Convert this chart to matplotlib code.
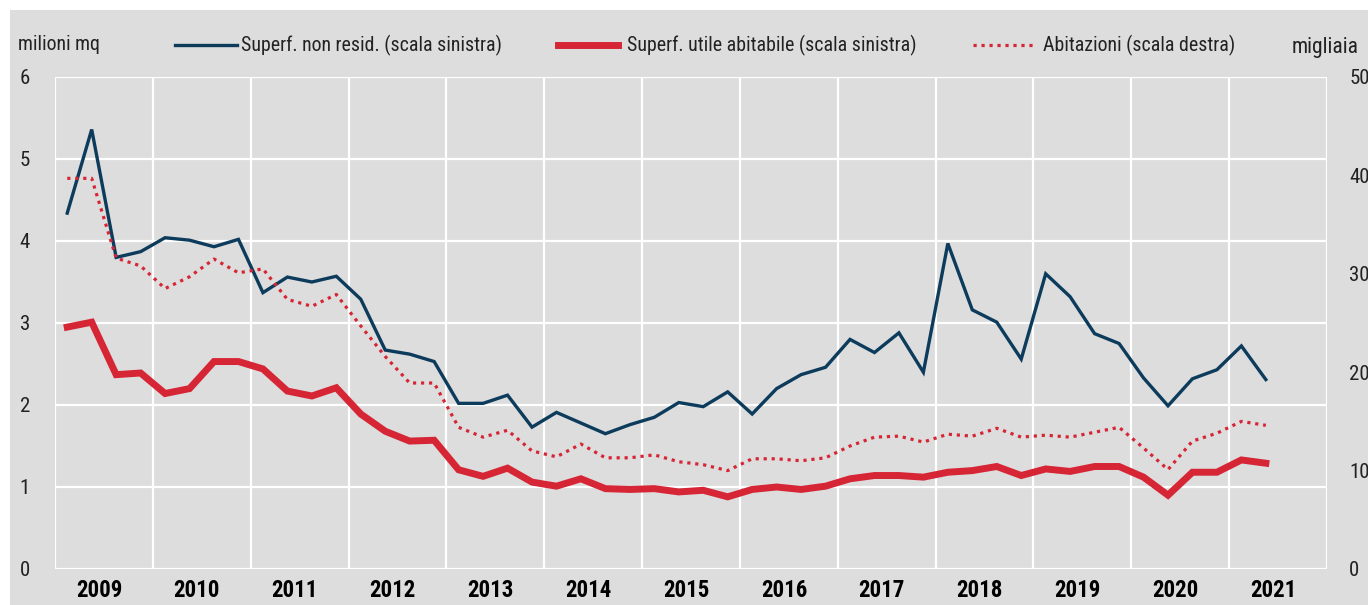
import matplotlib
matplotlib.use("Agg")
import matplotlib.pyplot as plt
from matplotlib.lines import Line2D
from matplotlib.patches import Rectangle
from matplotlib import font_manager as fm
import numpy as np

# ---------------- data ----------------
years = list(range(2009, 2022))
start_year = 2009
n_quarters = 50  # 2009Q1 .. 2021Q2

non_resid = [4.34, 5.36, 3.80, 3.87, 4.04, 4.01, 3.93, 4.02, 3.37, 3.56, 3.50, 3.57,
             3.29, 2.67, 2.62, 2.53, 2.02, 2.02, 2.12, 1.73, 1.91, 1.78, 1.65, 1.76,
             1.85, 2.03, 1.98, 2.16, 1.89, 2.20, 2.37, 2.46, 2.80, 2.64, 2.88, 2.40,
             3.97, 3.16, 3.01, 2.56, 3.60, 3.32, 2.87, 2.75, 2.33, 1.99, 2.32, 2.43,
             2.72, 2.31]
utile_abit = [2.95, 3.01, 2.37, 2.39, 2.14, 2.20, 2.53, 2.53, 2.44, 2.17, 2.11, 2.21,
              1.89, 1.68, 1.56, 1.57, 1.21, 1.13, 1.23, 1.06, 1.01, 1.10, 0.98, 0.97,
              0.98, 0.94, 0.96, 0.88, 0.97, 1.00, 0.97, 1.01, 1.10, 1.14, 1.14, 1.12,
              1.18, 1.20, 1.25, 1.14, 1.22, 1.19, 1.25, 1.25, 1.12, 0.90, 1.18, 1.18,
              1.33, 1.29]
abitazioni = [39.7, 39.7, 31.6, 30.8, 28.5, 29.7, 31.5, 30.1, 30.5, 27.4, 26.7, 27.9,
              24.7, 21.6, 18.9, 18.9, 14.4, 13.4, 14.1, 12.0, 11.4, 12.7, 11.3, 11.3,
              11.6, 10.9, 10.6, 10.0, 11.2, 11.2, 11.0, 11.3, 12.5, 13.4, 13.5, 12.9,
              13.7, 13.5, 14.3, 13.4, 13.6, 13.4, 13.9, 14.4, 12.3, 10.1, 13.0, 13.8,
              15.0, 14.6]

left_ticks = [0, 1, 2, 3, 4, 5, 6]
right_ticks = [0, 10, 20, 30, 40, 50]

labels = ["Superf. non resid. (scala sinistra)",
          "Superf. utile abitabile (scala sinistra)",
          "Abitazioni (scala destra)"]

# ---------------- style ----------------
avail = {f.name for f in fm.fontManager.ttflist}
FONT = "Liberation Sans"
for cand in ["Liberation Sans Narrow", "Arial Narrow", "Roboto Condensed",
             "PT Sans Narrow", "Archivo Narrow", "Pragati Narrow"]:
    if cand in avail:
        FONT = cand
        break
plt.rcParams['font.family'] = [FONT, 'DejaVu Sans']

BG = "#dddddd"
BLUE = "#0c3b5c"
RED = "#d62635"
TXT = "#222222"
TICK_FS = 15
YEAR_FS = 16.5
LEG_FS = 14.3

W, H = 1368, 605
fig = plt.figure(figsize=(W / 100, H / 100), dpi=100, facecolor="white")
fig.patches.append(Rectangle((10 / W, 0), 1 - 10 / W, 1 - 10 / H, transform=fig.transFigure,
                             facecolor=BG, edgecolor="none", zorder=-10))

x0, x1 = 55, 1327
y0, y1 = 77, 569
ax = fig.add_axes([x0 / W, 1 - y1 / H, (x1 - x0) / W, (y1 - y0) / H])
ax.set_facecolor(BG)
ax.patch.set_alpha(0)

q = np.arange(n_quarters)
x = start_year + (q + 0.5) / 4.0

ax.set_xlim(start_year, years[-1] + 1)
ax.set_ylim(0, 6)
ax.set_xticks(list(range(start_year, years[-1] + 2)))
ax.set_xticklabels([])
ax.set_xticks([y + 0.45 for y in years], minor=True)
ax.set_xticklabels([str(y) for y in years], minor=True, fontweight="bold",
                   fontsize=YEAR_FS, color="black")
ax.tick_params(axis="x", which="both", length=0, pad=7)
ax.set_yticks(left_ticks)
ax.set_yticklabels([str(t) for t in left_ticks], fontsize=TICK_FS, color=TXT)
ax.tick_params(axis="y", length=0, pad=18)
ax.grid(True, which="major", color="white", linewidth=1.6)
ax.set_axisbelow(True)
for s in ax.spines.values():
    s.set_visible(False)

ax2 = ax.twinx()
ax2.set_ylim(0, 50)
ax2.set_yticks(right_ticks)
ax2.set_yticklabels([str(t) for t in right_ticks], fontsize=TICK_FS, color=TXT)
ax2.tick_params(axis="y", length=0, pad=16)
for s in ax2.spines.values():
    s.set_visible(False)

ax.plot(x, non_resid, color=BLUE, lw=2.4, solid_joinstyle="miter", zorder=3)
ax.plot(x, utile_abit, color=RED, lw=5.0, solid_joinstyle="miter", zorder=3)
ax2.plot(x, abitazioni, color=RED, lw=2.3, linestyle=(0, (1, 1.5)), zorder=3)

# legend / header texts
ty = 1 - 45 / H
fig.text(18 / W, ty, "milioni mq", fontsize=LEG_FS, color=TXT, va="center", ha="left")
fig.text(1292 / W, 1 - 48 / H, "migliaia", fontsize=15.5, color=TXT, va="center", ha="left")
handles = [((175, 237), dict(color=BLUE, lw=2.4)),
           ((558, 618), dict(color=RED, lw=5.0)),
           ((973, 1034), dict(color=RED, lw=2.3, linestyle=(0, (1, 1.5))))]
text_x = [241, 627, 1043]
for (hx, kw), lab, tx in zip(handles, labels, text_x):
    fig.add_artist(Line2D([hx[0] / W, hx[1] / W], [ty, ty], transform=fig.transFigure, **kw))
    fig.text(tx / W, ty, lab, fontsize=LEG_FS, color=TXT, va="center", ha="left")

fig.savefig("out.png", dpi=100, facecolor="white")
